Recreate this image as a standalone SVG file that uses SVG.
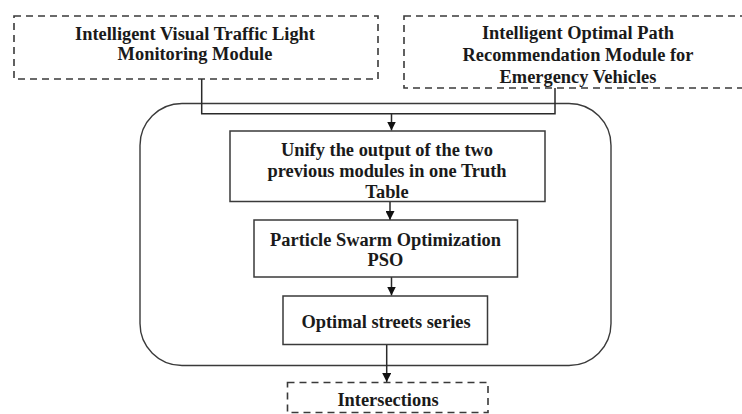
<svg xmlns="http://www.w3.org/2000/svg" width="742" height="414" viewBox="0 0 742 414">
  <style>
    .box { fill: #ffffff; stroke: #3a3a3a; stroke-width: 1.5; }
    .dash { fill: #ffffff; stroke: #3a3a3a; stroke-width: 1.6; stroke-dasharray: 7 5; }
    .frame { fill: none; stroke: #3a3a3a; stroke-width: 1.4; }
    .wire { fill: none; stroke: #2a2a2a; stroke-width: 1.5; }
    text { font-family: "Liberation Serif", "Times New Roman", serif; font-weight: bold; font-size: 18.4px; fill: #1a1a1a; text-anchor: middle; }
  </style>
  <defs>
    <marker id="arrow" viewBox="0 0 10 10" refX="10" refY="5" markerWidth="9" markerHeight="9" markerUnits="userSpaceOnUse" orient="auto">
      <path d="M0,0 L10,5 L0,10 Z" fill="#111111"/>
    </marker>
    <clipPath id="clipPath2"><rect x="404" y="16" width="350" height="72"/></clipPath>
    <clipPath id="clipUnify"><rect x="230" y="131" width="315" height="70.5"/></clipPath>
  </defs>

  <rect width="742" height="414" fill="#ffffff"/>

  <!-- processing frame -->
  <rect class="frame" x="140" y="103.5" width="471" height="262" rx="42" ry="42"/>

  <!-- input modules -->
  <g id="visual-monitoring">
    <rect class="dash" x="14" y="16" width="364" height="63"/>
    <text x="195" y="40">Intelligent Visual Traffic Light</text>
    <text x="195" y="60">Monitoring Module</text>
  </g>

  <g id="path-recommendation">
    <rect class="dash" x="404" y="16" width="350" height="72"/>
    <g clip-path="url(#clipPath2)">
      <text x="578" y="39">Intelligent Optimal Path</text>
      <text x="578" y="60.5">Recommendation Module for</text>
      <text x="578" y="82.5">Emergency Vehicles</text>
    </g>
  </g>

  <!-- connectors -->
  <g id="connectors">
    <path class="wire" d="M201.7,79 V113.7 H555 V88"/>
    <path class="wire" d="M391.5,113.7 V130.5" marker-end="url(#arrow)"/>
    <path class="wire" d="M390,201.7 V220" marker-end="url(#arrow)"/>
    <path class="wire" d="M391.5,277 V295.5" marker-end="url(#arrow)"/>
    <path class="wire" d="M386.7,345 V382" marker-end="url(#arrow)"/>
  </g>

  <g id="unify-truth-table">
    <rect class="box" x="230" y="131" width="315" height="70.5"/>
    <g clip-path="url(#clipUnify)">
      <text x="387" y="156">Unify the output of the two</text>
      <text x="387" y="177">previous modules in one Truth</text>
      <text x="387" y="198">Table</text>
    </g>
  </g>

  <g id="pso">
    <rect class="box" x="254" y="220" width="263.5" height="57"/>
    <text x="385.5" y="246">Particle Swarm Optimization</text>
    <text x="385.5" y="266">PSO</text>
  </g>

  <g id="optimal-streets">
    <rect class="box" x="283" y="296" width="204.5" height="48.5"/>
    <text x="386" y="328">Optimal streets series</text>
  </g>

  <g id="intersections">
    <rect class="dash" x="287.5" y="382.5" width="200.5" height="30"/>
    <text x="388" y="406">Intersections</text>
  </g>
</svg>
